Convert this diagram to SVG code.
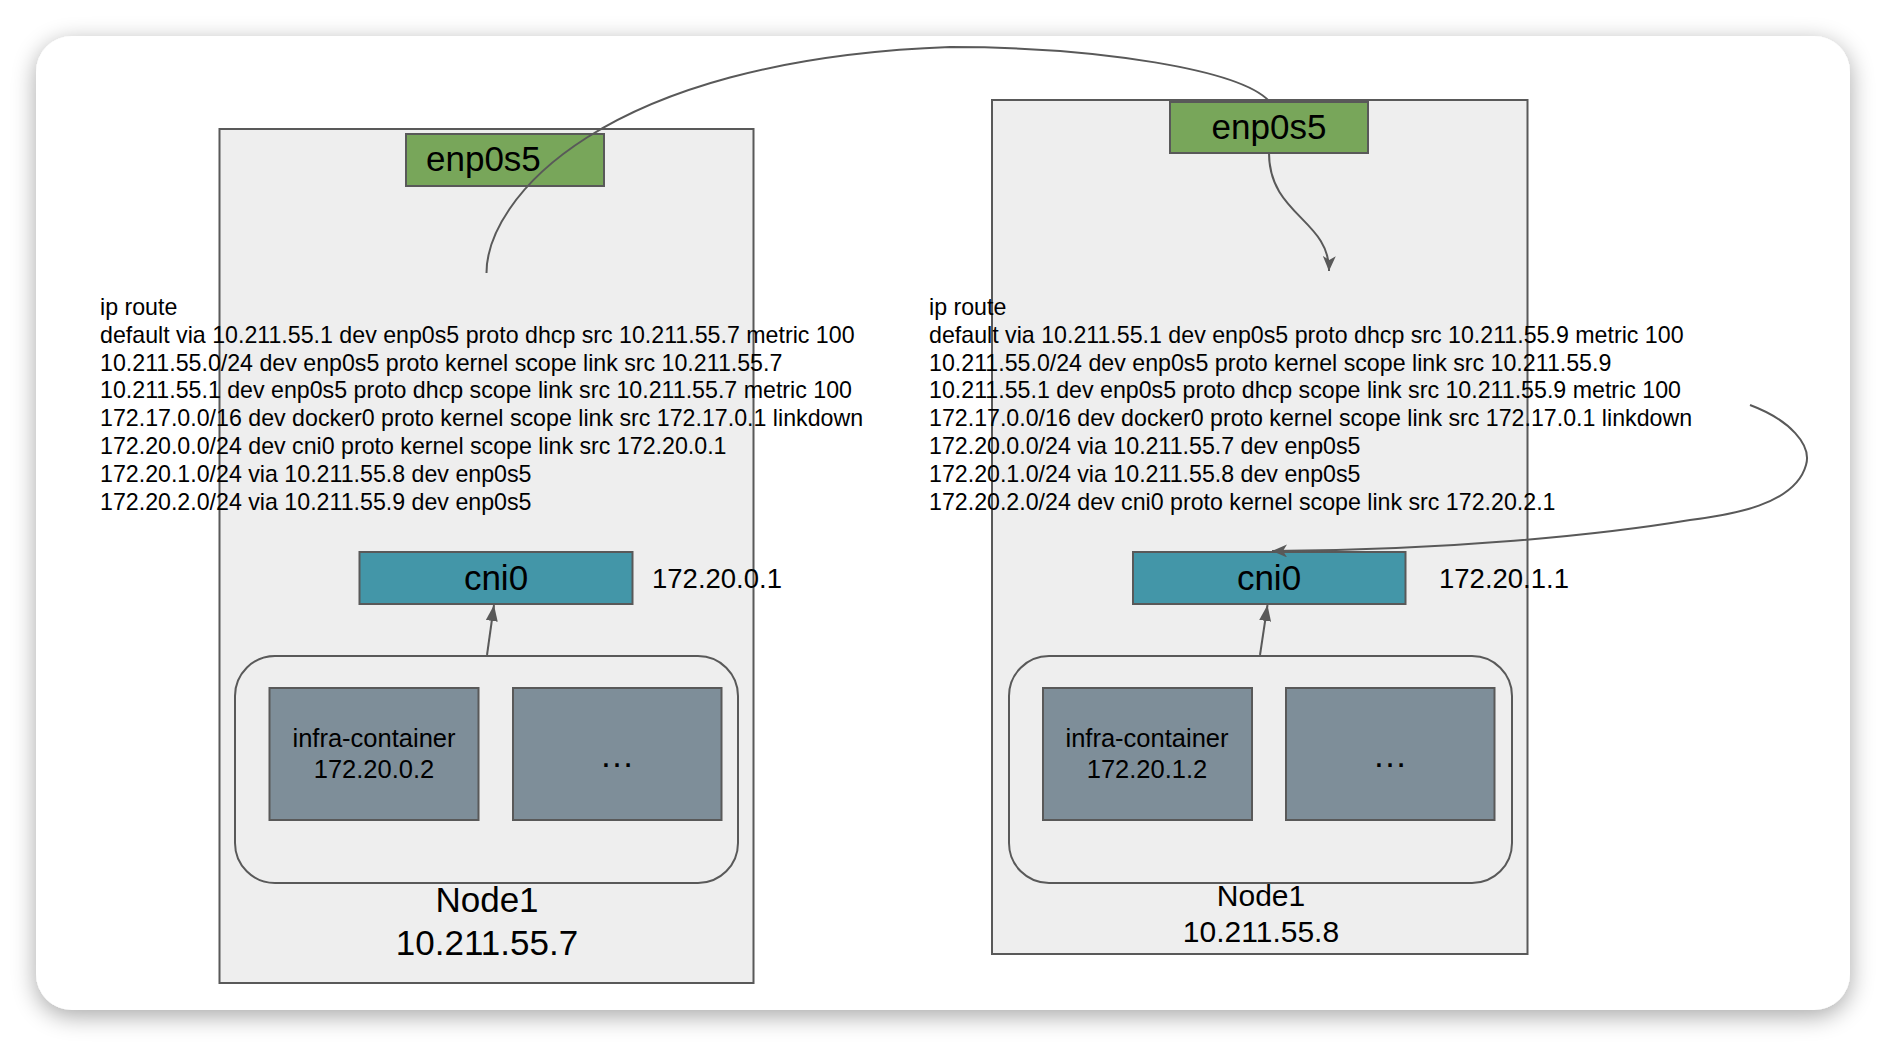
<svg xmlns="http://www.w3.org/2000/svg" width="1886" height="1048" viewBox="0 0 1886 1048">
<style>
text{font-family:"Liberation Sans",Arial,sans-serif;fill:#000}
.node{fill:#eeeeee;stroke:#595959;stroke-width:2}
.eth{fill:#78a65a;stroke:#595959;stroke-width:2}
.cni{fill:#4396a8;stroke:#595959;stroke-width:2}
.pod{fill:#7e8e99;stroke:#595959;stroke-width:2}
.podgrp{fill:#eeeeee;stroke:#595959;stroke-width:2}
.conn{fill:none;stroke:#595959;stroke-width:2}
.route{font-size:23.2px}
.big{font-size:35px}
.ip{font-size:27.5px}
.pt{font-size:25.5px}
</style>
<defs>
<filter id="shadow" x="-5%" y="-5%" width="110%" height="115%">
<feGaussianBlur in="SourceAlpha" stdDeviation="12"/>
<feOffset dx="0" dy="6" result="b"/>
<feComponentTransfer><feFuncA type="linear" slope="0.35"/></feComponentTransfer>
<feMerge><feMergeNode/><feMergeNode in="SourceGraphic"/></feMerge>
</filter>
<marker id="tri" viewBox="0 0 16 12" refX="16" refY="6" markerWidth="16" markerHeight="12" markerUnits="userSpaceOnUse" orient="auto">
<path d="M0,0 L16,6 L0,12 z" fill="#595959"/>
</marker>
<marker id="notch" viewBox="0 0 16 13" refX="15" refY="6.5" markerWidth="16" markerHeight="13" markerUnits="userSpaceOnUse" orient="auto">
<path d="M0,0 L15,6.5 L0,13 L4,6.5 z" fill="#595959"/>
</marker>
</defs>
<rect width="1886" height="1048" fill="#ffffff"/>
<rect x="36" y="36" width="1814" height="974" rx="36" fill="#ffffff" filter="url(#shadow)"/>

<g id="node-left">
<rect class="node" x="219.5" y="129" width="534" height="854"/>
<text class="big" x="487" y="912" text-anchor="middle">Node1</text>
<text class="big" x="487" y="955" text-anchor="middle">10.211.55.7</text>
</g>
<g id="enp0s5-left">
<rect class="eth" x="406" y="134" width="198" height="52"/>
<text class="big" x="426" y="171">enp0s5</text>
</g>
<g id="routes-left" class="route">
<text x="100" y="315">ip route</text>
<text x="100" y="342.8">default via 10.211.55.1 dev enp0s5 proto dhcp src 10.211.55.7 metric 100</text>
<text x="100" y="370.6">10.211.55.0/24 dev enp0s5 proto kernel scope link src 10.211.55.7</text>
<text x="100" y="398.4">10.211.55.1 dev enp0s5 proto dhcp scope link src 10.211.55.7 metric 100</text>
<text x="100" y="426.2">172.17.0.0/16 dev docker0 proto kernel scope link src 172.17.0.1 linkdown</text>
<text x="100" y="454">172.20.0.0/24 dev cni0 proto kernel scope link src 172.20.0.1</text>
<text x="100" y="481.8">172.20.1.0/24 via 10.211.55.8 dev enp0s5</text>
<text x="100" y="509.6">172.20.2.0/24 via 10.211.55.9 dev enp0s5</text>
</g>
<g id="cni0-left">
<rect class="cni" x="359.5" y="552" width="273" height="52"/>
<text class="big" x="496" y="590" text-anchor="middle">cni0</text>
<text class="ip" x="652" y="588">172.20.0.1</text>
</g>
<g id="pods-left">
<rect class="podgrp" x="235" y="656" width="503" height="227" rx="40"/>
</g>
<g id="infra-left">
<rect class="pod" x="269.5" y="688" width="209" height="132"/>
<text class="pt" x="374" y="747" text-anchor="middle">infra-container</text>
<text class="pt" x="374" y="778" text-anchor="middle">172.20.0.2</text>
</g>
<g id="other-left">
<rect class="pod" x="513" y="688" width="208.5" height="132"/>
<text class="big" x="617" y="767" text-anchor="middle">…</text>
</g>

<g id="node-right">
<rect class="node" x="992" y="100" width="535.5" height="854"/>
<text style="font-size:30px" x="1261" y="906" text-anchor="middle">Node1</text>
<text style="font-size:30px" x="1261" y="942" text-anchor="middle">10.211.55.8</text>
</g>
<g id="enp0s5-right">
<rect class="eth" x="1170" y="102" width="198" height="51"/>
<text class="big" x="1269" y="138.5" text-anchor="middle">enp0s5</text>
</g>
<g id="routes-right" class="route">
<text x="929" y="315">ip route</text>
<text x="929" y="342.8">default via 10.211.55.1 dev enp0s5 proto dhcp src 10.211.55.9 metric 100</text>
<text x="929" y="370.6">10.211.55.0/24 dev enp0s5 proto kernel scope link src 10.211.55.9</text>
<text x="929" y="398.4">10.211.55.1 dev enp0s5 proto dhcp scope link src 10.211.55.9 metric 100</text>
<text x="929" y="426.2">172.17.0.0/16 dev docker0 proto kernel scope link src 172.17.0.1 linkdown</text>
<text x="929" y="454">172.20.0.0/24 via 10.211.55.7 dev enp0s5</text>
<text x="929" y="481.8">172.20.1.0/24 via 10.211.55.8 dev enp0s5</text>
<text x="929" y="509.6">172.20.2.0/24 dev cni0 proto kernel scope link src 172.20.2.1</text>
</g>
<g id="cni0-right">
<rect class="cni" x="1133" y="552" width="272.5" height="52"/>
<text class="big" x="1269" y="590" text-anchor="middle">cni0</text>
<text class="ip" x="1439" y="588">172.20.1.1</text>
</g>
<g id="pods-right">
<rect class="podgrp" x="1009" y="656" width="503" height="227" rx="40"/>
</g>
<g id="infra-right">
<rect class="pod" x="1043" y="688" width="209" height="132"/>
<text class="pt" x="1147" y="747" text-anchor="middle">infra-container</text>
<text class="pt" x="1147" y="778" text-anchor="middle">172.20.1.2</text>
</g>
<g id="other-right">
<rect class="pod" x="1286" y="688" width="208.5" height="132"/>
<text class="big" x="1390" y="767" text-anchor="middle">…</text>
</g>

<g id="connectors">
<path class="conn" d="M486.5,273 C486.5,200 600,60 950,47 C1100,47 1240,70 1269,101"/>
<path class="conn" d="M1269,153 C1269,215 1330,220 1329,271" marker-end="url(#notch)"/>
<path class="conn" d="M1750,405 C1790,420 1812,445 1806,465 C1795,505 1730,515 1690,520 C1600,535 1450,550 1272,551" marker-end="url(#notch)"/>
<path class="conn" d="M487,655 L494,605" marker-end="url(#tri)"/>
<path class="conn" d="M1260,655 L1267.5,605" marker-end="url(#tri)"/>
</g>
</svg>
